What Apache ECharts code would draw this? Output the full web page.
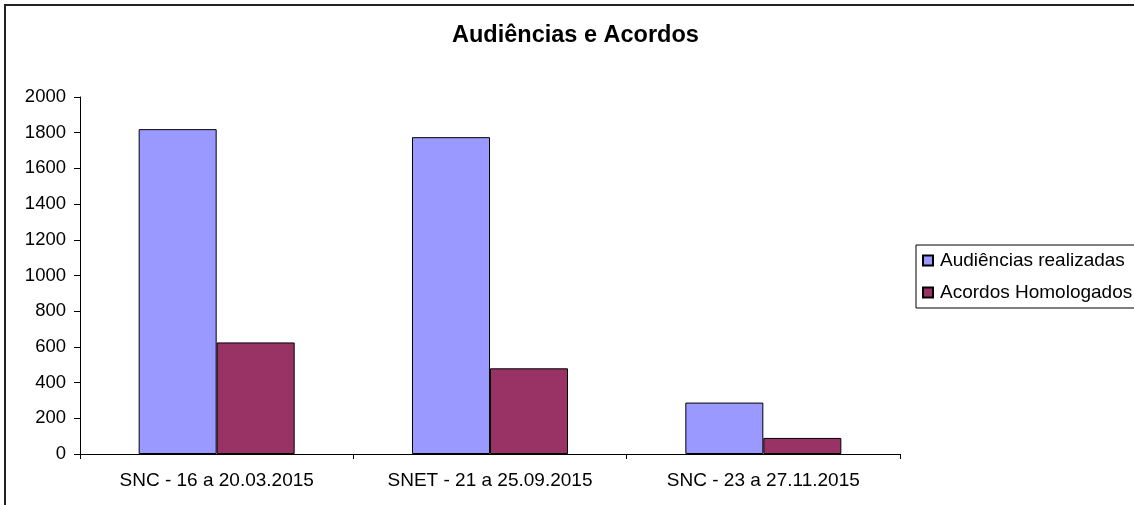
<!DOCTYPE html>
<html>
<head>
<meta charset="utf-8">
<script src="https://cdn.jsdelivr.net/npm/echarts@6/dist/echarts.min.js"></script>
<style>
  html, body { margin: 0; padding: 0; background: #fff; }
  #main { width: 1134px; height: 505px; }
</style>
</head>
<body>
<div id="main"></div>
<script>
var categories = ["SNC - 16 a 20.03.2015", "SNET - 21 a 25.09.2015", "SNC - 23 a 27.11.2015"];
var audiencias = [1820, 1775, 288];
var acordos = [625, 480, 90];
var seriesNames = ["Audiências realizadas", "Acordos Homologados"];

var font = "Liberation Sans, Arial, sans-serif";

var myChart = echarts.init(document.getElementById("main"));
var option = {
    backgroundColor: "#fff",
    animation: false,
    title: {
        text: "Audiências e Acordos",
        left: 452,
        top: 24,
        padding: 0,
        textStyle: {
            fontFamily: font,
            fontSize: 23.5,
            fontWeight: "bold",
            color: "#000",
        },
    },
    graphic: [
        {
            type: "rect",
            shape: { x: 5, y: 5, width: 1200, height: 600 },
            style: { fill: "none", stroke: "#222", lineWidth: 2 },
            silent: true,
        },
    ],
    legend: {
        orient: "vertical",
        left: 916,
        top: 245,
        padding: [6, 6, 6, 6],
        itemWidth: 10,
        itemHeight: 10,
        itemGap: 13,
        borderColor: "#000",
        borderWidth: 1,
        icon: "rect",
        data: seriesNames,
        textStyle: {
            fontFamily: font,
            fontSize: 19,
            color: "#000",
            padding: [0, 0, 0, 2],
        },
    },
    grid: {
        left: 80,
        right: 234,
        top: 97,
        bottom: 51,
        containLabel: false,
    },
    xAxis: {
        type: "category",
        data: categories,
        axisLine: { lineStyle: { color: "#000", width: 1 } },
        axisTick: { show: true, length: 5, lineStyle: { color: "#000" } },
        axisLabel: {
            margin: 17,
            fontFamily: font,
            fontSize: 19,
            color: "#000",
        },
        splitLine: { show: false },
    },
    yAxis: {
        type: "value",
        min: 0,
        max: 2000,
        interval: 200,
        axisLine: { show: true, lineStyle: { color: "#000", width: 1 } },
        axisTick: { show: true, length: 6, lineStyle: { color: "#000" } },
        axisLabel: {
            margin: 14,
            fontFamily: font,
            fontSize: 18.5,
            color: "#000",
            formatter: function (v) {
                return String(v);
            },
        },
        splitLine: { show: false },
    },
    series: [
        {
            name: seriesNames[0],
            type: "bar",
            data: audiencias,
            barWidth: 78,
            barGap: "0%",
            itemStyle: { color: "#9999FF", borderColor: "#000", borderWidth: 1 },
        },
        {
            name: seriesNames[1],
            type: "bar",
            data: acordos,
            barWidth: 78,
            barGap: "0%",
            itemStyle: { color: "#993366", borderColor: "#000", borderWidth: 1 },
        },
    ],
};
myChart.setOption(option);
</script>
</body>
</html>
